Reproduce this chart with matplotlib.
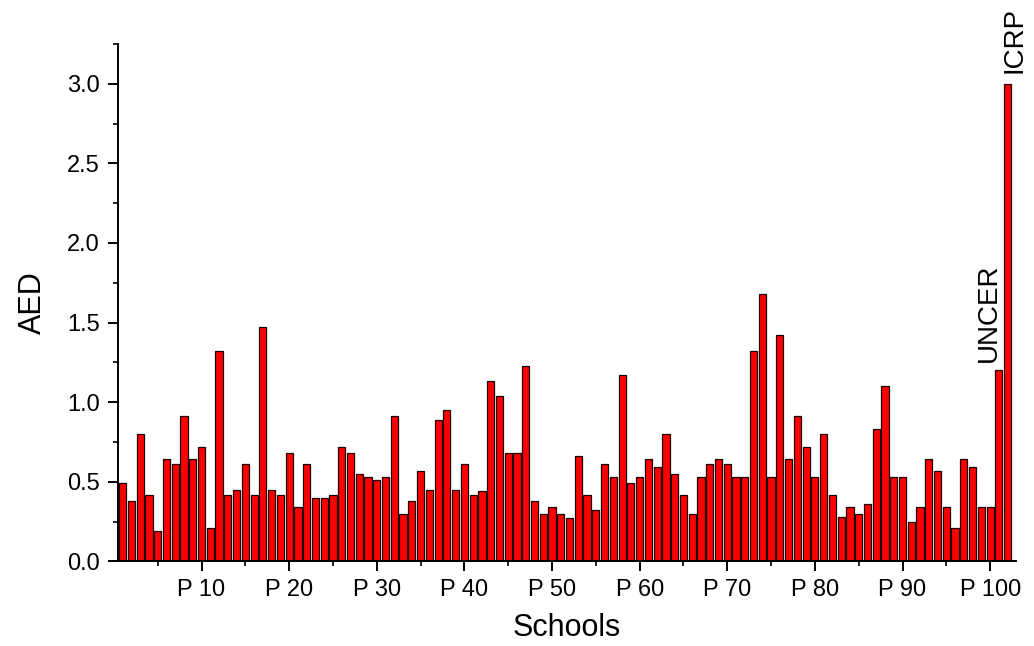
import matplotlib
matplotlib.use('Agg')
import matplotlib.pyplot as plt
from matplotlib.ticker import MultipleLocator, FixedLocator

plt.rcParams['font.family'] = ['Liberation Sans', 'DejaVu Sans']

# AED per school, P1..P100, then UNCER and ICRP reference values
aed = [0.49, 0.38, 0.80, 0.42, 0.19, 0.64, 0.61, 0.91, 0.64, 0.72,
       0.21, 1.32, 0.42, 0.45, 0.61, 0.42, 1.47, 0.45, 0.42, 0.68,
       0.34, 0.61, 0.40, 0.40, 0.42, 0.72, 0.68, 0.55, 0.53, 0.51,
       0.53, 0.91, 0.30, 0.38, 0.57, 0.45, 0.89, 0.95, 0.45, 0.61,
       0.42, 0.44, 1.13, 1.04, 0.68, 0.68, 1.23, 0.38, 0.30, 0.34,
       0.30, 0.27, 0.66, 0.42, 0.32, 0.61, 0.53, 1.17, 0.49, 0.53,
       0.64, 0.59, 0.80, 0.55, 0.42, 0.30, 0.53, 0.61, 0.64, 0.61,
       0.53, 0.53, 1.32, 1.68, 0.53, 1.42, 0.64, 0.91, 0.72, 0.53,
       0.80, 0.42, 0.28, 0.34, 0.30, 0.36, 0.83, 1.10, 0.53, 0.53,
       0.25, 0.34, 0.64, 0.57, 0.34, 0.21, 0.64, 0.59, 0.34, 0.34,
       1.20, 3.00]
ref_labels = ['UNCER', 'ICRP']
tick_pos = [10, 20, 30, 40, 50, 60, 70, 80, 90, 100]
tick_labels = ['P 10', 'P 20', 'P 30', 'P 40', 'P 50', 'P 60', 'P 70', 'P 80', 'P 90', 'P 100']

x = list(range(1, len(aed) + 1))

fig = plt.figure(figsize=(10.34, 6.46), dpi=100)
ax = fig.add_axes([0.114, 0.131, 0.869, 0.801])

ax.bar(x, aed, width=0.82, color='#ff0000', edgecolor='#1a0000', linewidth=0.9)

# reference labels above the last two bars
ax.text(x[-2] - 1.2, aed[-2] + 0.05, ref_labels[0], rotation=90, ha='center', va='bottom', fontsize=20)
ax.text(x[-1] + 0.8, aed[-1] + 0.07, ref_labels[1], rotation=90, ha='center', va='bottom', fontsize=20)

ax.set_xlim(0.45, 103)
ax.set_ylim(0, 3.25)

ax.xaxis.set_major_locator(FixedLocator(tick_pos))
ax.set_xticklabels(tick_labels)
ax.xaxis.set_minor_locator(FixedLocator([5, 15, 25, 35, 45, 55, 65, 75, 85, 95]))
ax.yaxis.set_major_locator(MultipleLocator(0.5))
ax.yaxis.set_minor_locator(MultipleLocator(0.25))
ax.yaxis.set_major_formatter(plt.FormatStrFormatter('%.1f'))

for s in ['top', 'right']:
    ax.spines[s].set_visible(False)
for s in ['left', 'bottom']:
    ax.spines[s].set_linewidth(1.4)

ax.tick_params(which='major', direction='out', length=7, width=1.4, labelsize=17, pad=6)
ax.tick_params(which='minor', direction='out', length=3.5, width=1.2)

ax.set_xlabel('Schools', fontsize=22, labelpad=8)
ax.set_ylabel('AED', fontsize=22, labelpad=14)

fig.savefig('out.png', dpi=100)
